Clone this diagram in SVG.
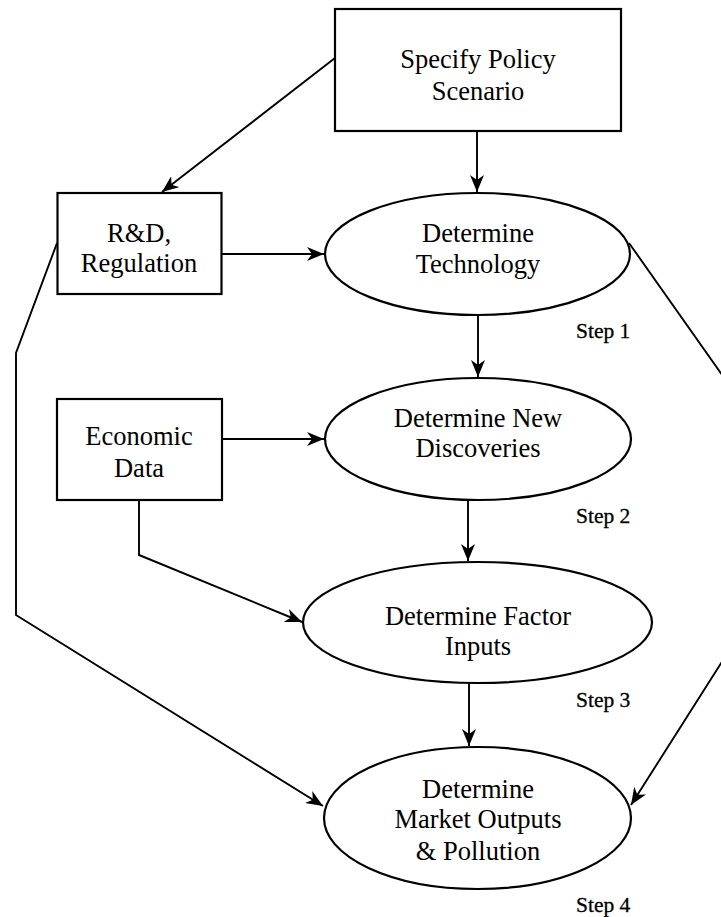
<svg xmlns="http://www.w3.org/2000/svg" width="721" height="917" viewBox="0 0 721 917">
<style>
.shape{fill:none;stroke:#000;stroke-width:2.2}
.conn{fill:none;stroke:#000;stroke-width:1.9}
.lbl{font-family:"Liberation Serif","Times New Roman",serif;font-size:26.5px;text-anchor:middle;fill:#000}
.step{font-family:"Liberation Serif","Times New Roman",serif;font-size:21.5px;fill:#000;stroke:#000;stroke-width:0.3}
</style>
<defs>
<marker id="ah" markerUnits="userSpaceOnUse" markerWidth="18" markerHeight="14" refX="17" refY="7" orient="auto">
<path d="M0,0 L17,7 L0,14 L5,7 z" fill="#000"/>
</marker>
</defs>
<g id="connectors">
<line class="conn" x1="477" y1="131" x2="477" y2="192" marker-end="url(#ah)"/>
<line class="conn" x1="335" y1="58" x2="162" y2="192" marker-end="url(#ah)"/>
<line class="conn" x1="222" y1="254" x2="324" y2="254" marker-end="url(#ah)"/>
<line class="conn" x1="478" y1="315" x2="478" y2="377" marker-end="url(#ah)"/>
<line class="conn" x1="222" y1="439" x2="324" y2="439" marker-end="url(#ah)"/>
<line class="conn" x1="468" y1="500" x2="468" y2="561" marker-end="url(#ah)"/>
<polyline class="conn" points="139,500 139,555 302,622" marker-end="url(#ah)"/>
<line class="conn" x1="469" y1="683" x2="469" y2="746" marker-end="url(#ah)"/>
<polyline class="conn" points="57,243 16,353 16,615 323,806" marker-end="url(#ah)"/>
<polyline class="conn" points="629,243 725,379 725,657 631,805" marker-end="url(#ah)"/>
</g>
<g id="specify">
<rect class="shape" x="335" y="9" width="286" height="122"/>
<text class="lbl" x="478" y="68">Specify Policy</text>
<text class="lbl" x="478" y="100">Scenario</text>
</g>
<g id="rnd">
<rect class="shape" x="57.5" y="193" width="164" height="101"/>
<text class="lbl" x="139" y="242">R&amp;D,</text>
<text class="lbl" x="139" y="272">Regulation</text>
</g>
<g id="technology">
<ellipse class="shape" cx="477.5" cy="254" rx="152.5" ry="61"/>
<text class="lbl" x="478" y="242">Determine</text>
<text class="lbl" x="478" y="273">Technology</text>
<text class="step" x="576" y="338">Step 1</text>
</g>
<g id="economic">
<rect class="shape" x="57" y="399" width="165" height="101"/>
<text class="lbl" x="139" y="445">Economic</text>
<text class="lbl" x="139" y="477">Data</text>
</g>
<g id="discoveries">
<ellipse class="shape" cx="478" cy="439" rx="153" ry="61"/>
<text class="lbl" x="478" y="427">Determine New</text>
<text class="lbl" x="478" y="457">Discoveries</text>
<text class="step" x="576" y="523">Step 2</text>
</g>
<g id="factor">
<ellipse class="shape" cx="477.5" cy="622.5" rx="174.5" ry="60.5"/>
<text class="lbl" x="478" y="625">Determine Factor</text>
<text class="lbl" x="478" y="655">Inputs</text>
<text class="step" x="576" y="707">Step 3</text>
</g>
<g id="market">
<ellipse class="shape" cx="477.5" cy="818" rx="153.5" ry="71"/>
<text class="lbl" x="478" y="798">Determine</text>
<text class="lbl" x="478" y="828">Market Outputs</text>
<text class="lbl" x="478" y="860">&amp; Pollution</text>
<text class="step" x="576" y="912">Step 4</text>
</g>
</svg>
